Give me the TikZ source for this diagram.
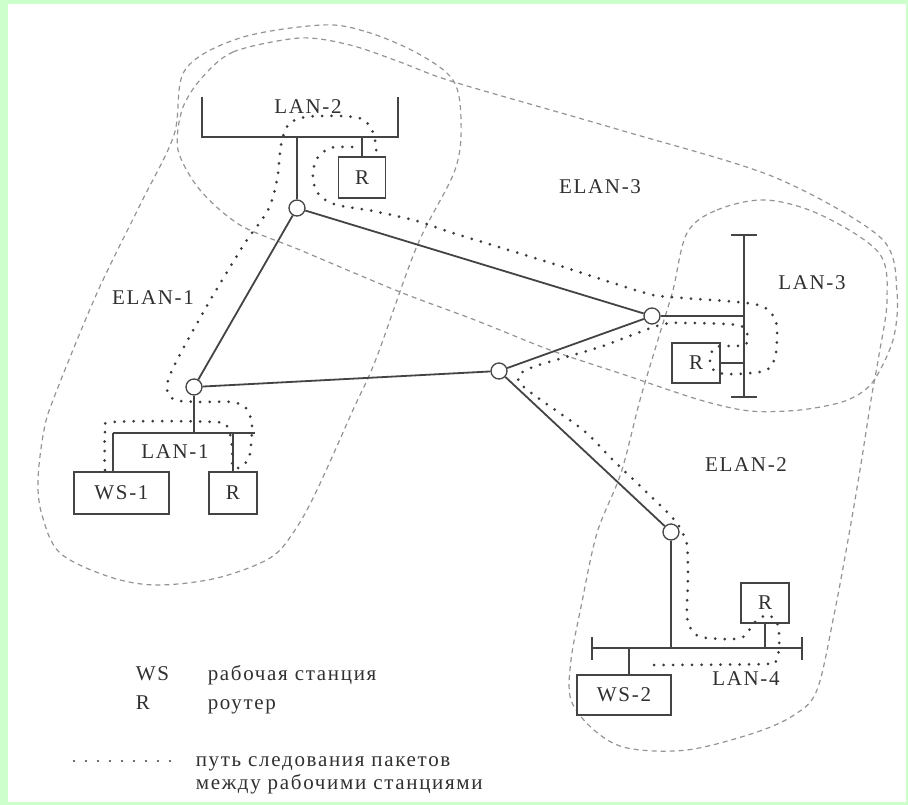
\documentclass[tikz,border=0pt]{standalone}
\usepackage{fontspec}
\setmainfont{Liberation Serif}[LetterSpace=8]
\definecolor{bggreen}{HTML}{CCFFCC}
\definecolor{linegray}{HTML}{444444}
\definecolor{dashgray}{HTML}{949494}
\definecolor{dotgray}{HTML}{3C3C3C}
\definecolor{textgray}{HTML}{303030}
\newcommand\diagfont{\fontsize{21}{23}\selectfont}
\begin{document}
\begin{tikzpicture}[x=1pt,y=-1pt,line width=1.6pt,
  hub/.style={circle,draw=linegray,fill=white,minimum size=16pt,inner sep=0pt,line width=1.3pt},
  host/.style={draw=linegray,fill=white,line width=1.3pt,inner sep=0pt,text=textgray,font=\diagfont},
  elan/.style={draw=dashgray,line width=1.2pt,dash pattern=on 5pt off 4pt},
  packet path/.style={draw=dotgray,line width=3pt,line cap=round,dash pattern=on 0pt off 9.5pt},
  lan/.style={draw=linegray,line width=1.8pt},
  lan label/.style={text=textgray,font=\diagfont,inner sep=0pt}]
  \useasboundingbox (0,0) rectangle (908,805);
  \fill[bggreen] (0,0) rectangle (908,805);
  \fill[white] (8,4) rectangle (906,802);
  % ELAN boundaries
  \draw[elan] plot[smooth cycle,tension=0.55] coordinates {(322,25) (367,32) (417,53) (453,80) (461,120) (455,170) (417,246) (376,359) (353,410) (317,490) (295,530) (270,558) (217,578) (157,585) (110,577) (60,553) (42,515) (38,480) (44,430) (55,395) (97,293) (140,205) (174,135) (185,70) (240,38)};
  \draw[elan] plot[smooth cycle,tension=0.5] coordinates {(200,80) (233,52) (300,38) (350,45) (400,62) (454,82) (620,130) (774,177) (881,238) (897,293) (893,340) (872,383) (845,401) (800,410) (750,411) (700,400) (625,375) (550,350) (475,320) (400,292) (300,250) (240,225) (200,190) (178,150) (182,110)};
  \draw[elan] plot[smooth cycle,tension=0.55] coordinates {(687,233) (717,210) (766,200) (821,215) (879,253) (887,300) (879,355) (871,400) (860,470) (848,540) (834,615) (817,690) (794,715) (754,733) (687,750) (627,748) (594,730) (571,700) (571,660) (581,607) (597,533) (621,473) (640,400) (660,333) (673,290)};
  % hubs and hosts
  \node[hub] (n2) at (297,208) {};
  \node[hub] (n1) at (194,387) {};
  \node[hub] (nc) at (499,371) {};
  \node[hub] (n3) at (652,316) {};
  \node[hub] (n4) at (671,532) {};
  \node[host,minimum width=47pt,minimum height=41pt] (r2) at (362,177.5) {R};
  \node[host,minimum width=48pt,minimum height=40pt] (r3) at (696,363) {R};
  \node[host,minimum width=95pt,minimum height=42pt] (ws1) at (121.5,493) {WS-1};
  \node[host,minimum width=48pt,minimum height=42pt] (r1) at (233,493) {R};
  \node[host,minimum width=94pt,minimum height=40pt] (ws2) at (624,695) {WS-2};
  \node[host,minimum width=48pt,minimum height=40pt] (r4) at (765,603) {R};
  % LAN segments
  \coordinate (lan2w) at (202,137);
  \coordinate (lan2e) at (398,137);
  \coordinate (lan3n) at (744,235);
  \coordinate (lan3s) at (744,397);
  \coordinate (lan1w) at (113,433);
  \coordinate (lan1e) at (255,433);
  \coordinate (lan4w) at (592,648);
  \coordinate (lan4e) at (802,648);
  \draw[lan] (lan2w) ++(0,-40) -- (lan2w) -- (lan2e) -- ++(0,-40);
  \draw[lan] (lan3n) -- (lan3s);
  \draw[lan] ([xshift=-13pt]lan3n) -- ([xshift=13pt]lan3n);
  \draw[lan] ([xshift=-13pt]lan3s) -- ([xshift=13pt]lan3s);
  \draw[lan] (lan1w) -- (lan1e);
  \draw[lan] (lan4w) -- (lan4e);
  \draw[lan] ([yshift=11pt]lan4w) -- ([yshift=-12pt]lan4w);
  \draw[lan] ([yshift=11pt]lan4e) -- ([yshift=-12pt]lan4e);
  % attachments
  \draw[lan] (n2) -- (n2 |- lan2w);
  \draw[lan] (r2.north) -- (r2.north |- lan2w);
  \draw[lan] (n3) -- (n3 -| lan3n);
  \draw[lan] (r3.east) -- (r3.east -| lan3n);
  \draw[lan] (n1) -- (n1 |- lan1w);
  \draw[lan] (lan1w) -- (lan1w |- ws1.north);
  \draw[lan] (r1.north) -- (r1.north |- lan1w);
  \draw[lan] (n4) -- (n4 |- lan4w);
  \draw[lan] ([xshift=5pt]ws2.north) -- ([xshift=5pt]ws2.north |- lan4w);
  \draw[lan] (r4.south) -- (r4.south |- lan4w);
  % ATM links
  \draw[lan] (n2) -- (n1);
  \draw[lan] (n1) -- (nc);
  \draw[lan] (n2) -- (n3);
  \draw[lan] (nc) -- (n3);
  \draw[lan] (nc) -- (n4);
  % labels
  \node[lan label] (t-lan2) at (308,107) {LAN-2};
  \node[lan label] (t-elan1) at (153,298) {ELAN-1};
  \node[lan label] (t-elan3) at (600,187) {ELAN-3};
  \node[lan label] (t-lan3) at (812,283) {LAN-3};
  \node[lan label] (t-lan1) at (175,452) {LAN-1};
  \node[lan label] (t-elan2) at (746,465) {ELAN-2};
  \node[lan label] (t-lan4) at (746,679) {LAN-4};
  % packet path
  \draw[packet path] plot[smooth,tension=0.5] coordinates {(105,470) (105,432) (113,422) (215,422) (228,429) (232,446) (232,470)};
  \draw[packet path] plot[smooth,tension=0.5] coordinates {(238,468) (249,458) (252,425) (246,408) (232,402) (200,402) (175,400) (167,390) (170,375) (185,345) (215,292) (245,243) (268,210) (277,180) (281,145) (288,125) (305,117) (340,116) (362,119) (372,130) (376,146) (376,156)};
  \draw[packet path] plot[smooth,tension=0.5] coordinates {(352,147) (330,148) (316,160) (313,180) (320,196) (337,205) (373,211) (417,221) (453,233) (554,264) (645,293) (671,297) (737,302) (764,307) (776,322) (776,353) (767,370) (737,374) (716,372) (710,360) (716,347) (745,345) (747,333) (737,325) (687,323) (660,325) (600,347) (533,367) (518,378) (530,392) (583,430) (613,460) (670,515) (682,532) (687,545) (688,577) (687,617) (694,633) (707,638) (741,638) (755,622) (768,615) (778,625) (779,647) (776,660) (765,664) (654,665)};
  % legend
  \node[lan label,anchor=base west] (leg-ws) at (135,680) {WS};
  \node[lan label,anchor=base west] (leg-ws-text) at (207,680) {рабочая станция};
  \node[lan label,anchor=base west] (leg-r) at (135,709) {R};
  \node[lan label,anchor=base west] (leg-r-text) at (207,709) {роутер};
  \coordinate (leg-dot-w) at (74,761);
  \coordinate (leg-dot-e) at (170,761);
  \draw[packet path,line width=2.2pt,dash pattern=on 0pt off 12pt] (leg-dot-w) -- (leg-dot-e);
  \node[lan label,anchor=base west] (leg-path) at (195,766) {путь следования пакетов};
  \node[lan label,anchor=base west] (leg-path2) at (195,789) {между рабочими станциями};
\end{tikzpicture}
\end{document}
